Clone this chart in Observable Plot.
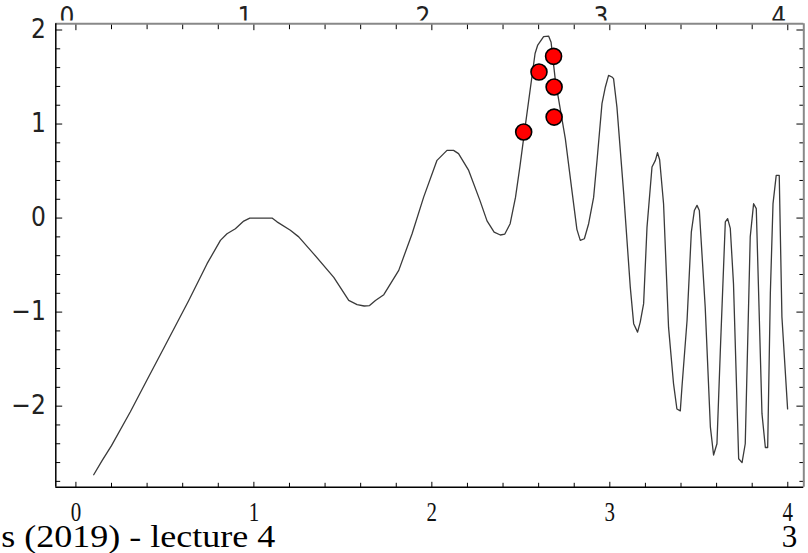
<!DOCTYPE html>
<html><head><meta charset="utf-8">
<script src="https://cdn.jsdelivr.net/npm/d3@7"></script>
<script src="https://cdn.jsdelivr.net/npm/@observablehq/plot@0.6"></script>
<style>html,body{margin:0;padding:0;background:#fff;overflow:hidden}</style>
</head><body><div id="chart"></div>
<script>
const curveX = [0.10,0.147,0.20,0.306,0.40,0.50,0.634,0.737,0.812,0.849,0.896,0.943,0.977,1.102,1.13,1.205,1.252,1.336,1.449,1.533,1.58,1.62,1.65,1.683,1.73,1.814,1.889,1.954,2.029,2.085,2.122,2.15,2.207,2.27,2.31,2.35,2.385,2.41,2.44,2.47,2.495,2.525,2.58,2.595,2.628,2.656,2.67,2.694,2.75,2.79,2.815,2.834,2.857,2.881,2.909,2.928,2.956,2.975,2.993,3.012,3.021,3.04,3.078,3.115,3.134,3.156,3.171,3.19,3.209,3.237,3.256,3.268,3.28,3.302,3.33,3.358,3.377,3.396,3.406,3.434,3.458,3.475,3.49,3.503,3.536,3.565,3.583,3.602,3.621,3.649,3.662,3.677,3.695,3.724,3.743,3.761,3.789,3.808,3.823,3.855,3.874,3.887,3.902,3.917,3.935,3.952,3.967,3.999];
const curveY = [-2.73,-2.58,-2.42,-2.06,-1.72,-1.36,-0.876,-0.485,-0.237,-0.166,-0.113,-0.032,0.0,0.0,-0.04,-0.13,-0.2,-0.38,-0.63,-0.876,-0.92,-0.935,-0.93,-0.876,-0.815,-0.556,-0.166,0.223,0.614,0.72,0.72,0.685,0.507,0.188,-0.03,-0.15,-0.18,-0.17,-0.06,0.22,0.55,0.98,1.75,1.84,1.93,1.935,1.87,1.465,0.845,0.25,-0.12,-0.237,-0.22,-0.06,0.22,0.61,1.217,1.394,1.518,1.50,1.483,1.18,0.26,-0.734,-1.123,-1.213,-1.106,-0.91,-0.096,0.543,0.614,0.695,0.62,0.153,-1.16,-1.76,-2.03,-2.05,-1.78,-1.09,-0.15,0.08,0.135,0.08,-0.947,-2.22,-2.52,-2.40,-1.41,-0.04,-0.006,-0.11,-0.70,-2.56,-2.60,-2.40,-0.20,0.153,0.10,-2.08,-2.44,-2.44,-0.80,0.153,0.454,0.454,-1.05,-2.03];
const pointX = [2.516, 2.602, 2.684, 2.687, 2.687];
const pointY = [0.915, 1.553, 1.720, 1.394, 1.074];
const xTickValues = [0, 1, 2, 3, 4];
const xTickLabels = ["0", "1", "2", "3", "4"];
const yTickValues = [-2, -1, 0, 1, 2];
const yTickLabels = ["−2", "−1", "0", "1", "2"];
const footerLeft = "s (2019) - lecture 4";
const footerRight = "3";

const xDomain = [-0.113, 4.09];
const yDomain = [-2.862, 2.066];
const xMinor = d3.range(0, 4.001, 0.2).filter(v => Math.abs(v - Math.round(v)) > 1e-6);
const yMinor = d3.range(-2.8, 2.001, 0.2).filter(v => Math.abs(v - Math.round(v)) > 1e-6);

const curve = curveX.map((x, i) => ({x, y: curveY[i]}));
const points = pointX.map((x, i) => ({x, y: pointY[i]}));
const tickShape = {draw(context, l) { context.moveTo(0, 0); context.lineTo(0, -l); }};
const sans = "DejaVu Sans Condensed, DejaVu Sans, sans-serif";
const serif = "Liberation Serif, Times New Roman, serif";

function ticks(values, side, len) {
  const opts = {anchor: "start", shape: tickShape, length: len, stroke: "black", strokeWidth: 1};
  if (side === "left") return Plot.vector(values, {...opts, x: () => xDomain[0], y: d => d, rotate: 90});
  if (side === "right") return Plot.vector(values, {...opts, x: () => xDomain[1], y: d => d, rotate: -90});
  if (side === "top") return Plot.vector(values, {...opts, x: d => d, y: () => yDomain[1], rotate: 180});
  return Plot.vector(values, {...opts, x: d => d, y: () => yDomain[0], rotate: 0});
}

const chart = Plot.plot({
  width: 808, height: 553,
  marginTop: 23.3, marginBottom: 66.3, marginLeft: 55.3, marginRight: 4.7,
  x: {domain: xDomain, axis: null},
  y: {domain: yDomain, axis: null},
  style: {background: "white", overflow: "visible"},
  marks: [
    Plot.text(xTickValues, {x: d => d, text: (d, i) => xTickLabels[i], frameAnchor: "top", dy: 2, dx: -9, lineAnchor: "bottom", fontFamily: sans, fontSize: 26, fill: "#222"}),
    Plot.line(curve, {x: "x", y: "y", stroke: "#3a3a3a", strokeWidth: 1.3}),
    ticks(yTickValues, "left", 6), ticks(yMinor, "left", 4),
    ticks(yTickValues, "right", 7), ticks(yMinor, "right", 4),
    ticks(xTickValues, "top", 6), ticks(xMinor, "top", 5),
    ticks(xTickValues, "bottom", 5), ticks(xMinor, "bottom", 4),
    Plot.ruleY([yDomain[1]], {stroke: "#888", strokeWidth: 2}),
    Plot.ruleX([xDomain[1]], {stroke: "#888", strokeWidth: 2}),
    Plot.ruleX([xDomain[0]], {stroke: "black", strokeWidth: 1.5}),
    Plot.ruleY([yDomain[0]], {stroke: "black", strokeWidth: 1.5}),
    Plot.dot(points, {x: "x", y: "y", r: 8, fill: "#ff0000", stroke: "black", strokeWidth: 1.6}),
    Plot.text(yTickValues, {y: d => d, text: (d, i) => yTickLabels[i], frameAnchor: "left", dx: -10, textAnchor: "end", lineAnchor: "middle", fontFamily: sans, fontSize: 26, fill: "#222"}),
    Plot.text(xTickValues, {x: d => d, text: (d, i) => xTickLabels[i], frameAnchor: "bottom", dy: 34, lineAnchor: "bottom", fontFamily: serif, fontSize: 27, fill: "#111"}),
    Plot.text([footerLeft], {frameAnchor: "bottom-left", dx: -54.5, dy: 59.8, textAnchor: "start", lineAnchor: "bottom", fontFamily: serif, fontSize: 31, fill: "black"}),
    Plot.text([footerRight], {frameAnchor: "bottom-right", dx: -6.6, dy: 59.8, textAnchor: "end", lineAnchor: "bottom", fontFamily: serif, fontSize: 31, fill: "black"})
  ]
});

const svg = d3.select(chart);
svg.insert("defs", ":first-child").append("clipPath").attr("id", "clipTop")
  .attr("clipPathUnits", "userSpaceOnUse")
  .append("rect").attr("x", -100).attr("y", -100).attr("width", 1100).attr("height", 120.5);
const textGroups = svg.selectAll('g[aria-label="text"]').nodes();
// first text mark = top axis labels; wrap in an untransformed group clipped just above the frame line
const topGroup = textGroups[0];
const wrapper = document.createElementNS("http://www.w3.org/2000/svg", "g");
topGroup.parentNode.insertBefore(wrapper, topGroup);
wrapper.appendChild(topGroup);
wrapper.setAttribute("clip-path", "url(#clipTop)");
// bottom labels: narrow glyphs like the reference
d3.select(textGroups[2]).selectAll("text").attr("textLength", 10.5).attr("lengthAdjust", "spacingAndGlyphs");
// footer stretched like the reference
d3.select(textGroups[3]).select("text").attr("textLength", 274).attr("lengthAdjust", "spacingAndGlyphs");
document.getElementById("chart").appendChild(chart);
</script>
</body></html>
